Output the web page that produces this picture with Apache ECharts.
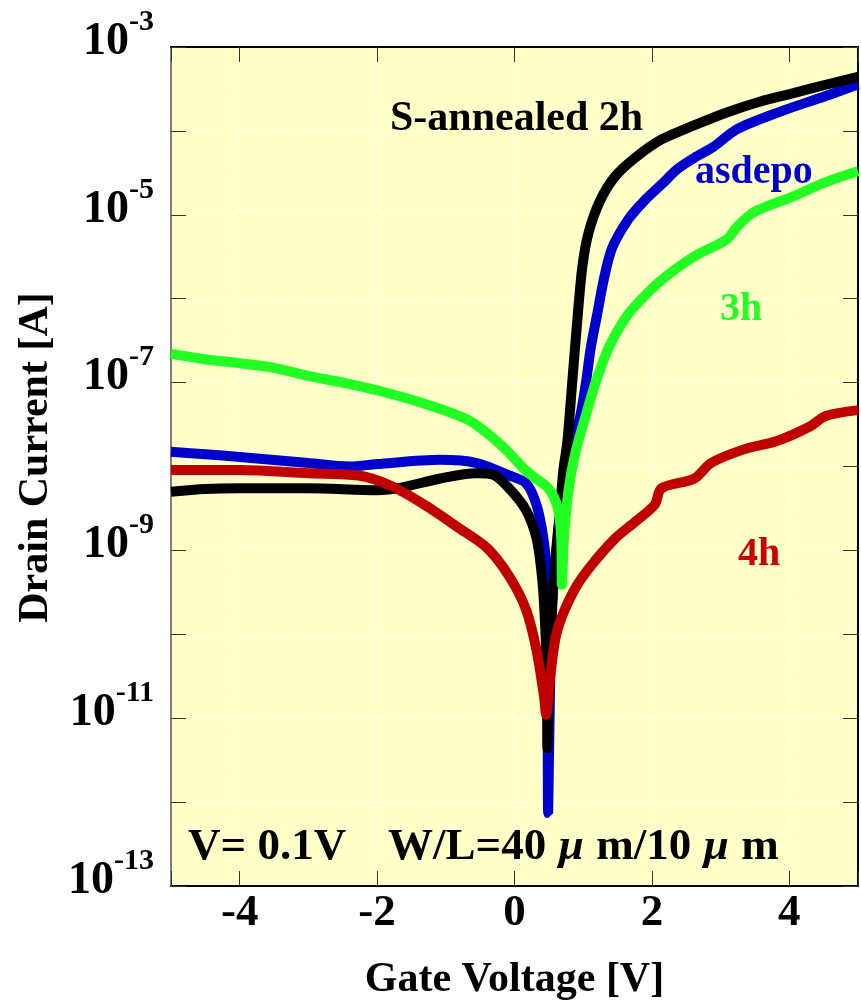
<!DOCTYPE html>
<html>
<head>
<meta charset="utf-8">
<script src="https://cdn.jsdelivr.net/npm/echarts@6/dist/echarts.min.js"></script>
<style>
  html, body { margin: 0; padding: 0; background: #ffffff; }
  #chart { width: 861px; height: 1006px; }
</style>
</head>
<body>
<div id="chart"></div>
<script>
// Transfer curves Id–Vg, drain bias 0.1 V, W/L = 40 µm / 10 µm

// asdepo
const vgAsdepo = [-5, -4.5, -4, -3, -2.4, -2, -1.08, -0.55, -0.07, 0.17, 0.32, 0.42, 0.47, 0.49,
  0.52, 0.56, 0.63, 0.70, 0.77, 0.85, 0.96, 1.04, 1.11, 1.20, 1.30, 1.42, 1.66, 1.90, 2.14, 2.37,
  2.62, 2.90, 3.24, 3.87, 4.53, 5.0];
const idAsdepo = [1.5e-8, 1.4e-8, 1.3e-8, 1.1e-8, 1.0e-8, 1.07e-8, 1.2e-8, 1.1e-8, 7.8e-9, 6.3e-9,
  3.5e-9, 1.4e-9, 4.8e-10, 7.4e-13, 3.2e-11, 3.2e-10, 1.6e-9, 4.5e-9, 9.5e-9, 1.8e-8, 4.1e-8,
  1.0e-7, 2.6e-7, 6.3e-7, 1.7e-6, 4.0e-6, 8.9e-6, 1.5e-5, 2.3e-5, 3.5e-5, 4.8e-5, 6.5e-5,
  1.05e-4, 1.7e-4, 2.6e-4, 3.6e-4];

// S-annealed 2h
const vgAnneal2h = [-5, -4.5, -4, -3, -2, -1.65, -1.08, -0.55, -0.30, -0.07, 0.17, 0.32, 0.39,
  0.43, 0.47, 0.48, 0.50, 0.55, 0.60, 0.65, 0.71, 0.77, 0.84, 0.92, 0.99, 1.08, 1.25, 1.47, 1.76,
  2.14, 2.62, 3.09, 3.58, 4.06, 4.53, 5.0];
const idAnneal2h = [5.0e-9, 5.4e-9, 5.5e-9, 5.5e-9, 5.2e-9, 5.6e-9, 7.2e-9, 8.3e-9, 7.9e-9, 5.4e-9,
  3.0e-9, 1.4e-9, 5.8e-10, 2.3e-10, 3.7e-11, 4.4e-12, 2.5e-11, 2.5e-10, 7.9e-10, 2.2e-9, 8.9e-9,
  2.0e-8, 1.0e-7, 6.3e-7, 2.5e-6, 6.2e-6, 1.5e-5, 2.9e-5, 4.8e-5, 7.9e-5, 1.17e-4, 1.66e-4,
  2.24e-4, 2.82e-4, 3.55e-4, 4.4e-4];

// 4h
const vg4h = [-5, -4, -3, -2.27, -1.8, -1.31, -0.83, -0.40, -0.07, 0.17, 0.32, 0.43, 0.46, 0.53,
  0.60, 0.70, 0.89, 1.13, 1.47, 1.76, 2.04, 2.14, 2.62, 2.86, 3.34, 3.81, 4.30, 4.53, 5.0];
const id4h = [9.1e-9, 9.1e-9, 8.3e-9, 7.8e-9, 5.9e-9, 3.5e-9, 1.9e-9, 1.07e-9, 4.8e-10, 1.95e-10,
  6.5e-11, 1.8e-11, 1.1e-11, 3.7e-11, 9.3e-11, 1.7e-10, 3.6e-10, 6.8e-10, 1.4e-9, 2.2e-9, 3.5e-9,
  5.5e-9, 7.2e-9, 1.1e-8, 1.6e-8, 2.0e-8, 3.0e-8, 4.0e-8, 4.7e-8];

// 3h
const vg3h = [-5, -4.5, -4, -3.5, -3, -2.5, -2, -1.31, -0.65, -0.16, 0.13, 0.27, 0.50, 0.63, 0.68,
  0.69, 0.72, 0.79, 0.89, 1.04, 1.18, 1.37, 1.64, 1.95, 2.19, 2.62, 3.09, 3.24, 3.48, 4.06, 4.53, 5.0];
const id3h = [2.2e-7, 1.9e-7, 1.7e-7, 1.5e-7, 1.2e-7, 1.0e-7, 8.1e-8, 5.6e-8, 3.5e-8, 1.7e-8, 9.5e-9,
  7.6e-9, 5.4e-9, 3.2e-9, 1.4e-9, 3.9e-10, 1.4e-9, 5.5e-9, 1.5e-8, 4.1e-8, 1.0e-7, 2.6e-7, 6.3e-7,
  1.2e-6, 1.8e-6, 3.2e-6, 5.1e-6, 7.2e-6, 1.07e-5, 1.66e-5, 2.45e-5, 3.3e-5];

const seriesNames = ['asdepo', 'S-annealed 2h', '4h', '3h'];
const seriesColors = ['#0000cc', '#000000', '#c00000', '#22ff22'];
const seriesX = [vgAsdepo, vgAnneal2h, vg4h, vg3h];
const seriesY = [idAsdepo, idAnneal2h, id4h, id3h];

const xTitle = 'Gate Voltage [V]';
const yTitle = 'Drain Current [A]';

const serif = '"Liberation Serif", "Times New Roman", serif';

function pairs(xs, ys) {
  return xs.map((x, i) => [x, ys[i]]);
}

const chart = echarts.init(document.getElementById('chart'), null, { renderer: 'canvas' });

const gridBox = { left: 171, top: 47, width: 695, height: 843 };

// decade labels on odd exponents only, written as 10 with a raised exponent
function yLabel(value) {
  const e = Math.round(Math.log10(value));
  if (e % 2 === 0) return '';
  return '{b|10}{s|' + e + '}';
}

function xLabel(value) {
  if (Math.abs(value) >= 5 || Math.abs(value) % 2 !== 0) return '';
  return String(value);
}

const option = {
  animation: false,
  backgroundColor: '#ffffff',
  grid: Object.assign({ show: true, backgroundColor: '#ffffc8', borderWidth: 0, containLabel: false }, gridBox),
  xAxis: [
    {
      type: 'value', position: 'bottom', min: -5, max: 5, splitNumber: 5,
      name: xTitle, nameLocation: 'middle', nameGap: 73,
      nameTextStyle: { fontFamily: serif, fontWeight: 'bold', fontSize: 42, color: '#000' },
      axisLine: { onZero: false, lineStyle: { color: '#000', width: 2 } },
      axisTick: { inside: true, length: 15, lineStyle: { color: '#333', width: 1 } },
      axisLabel: { formatter: xLabel, margin: 5, fontFamily: serif, fontWeight: 'bold', fontSize: 45, color: '#000' },
      splitLine: { show: true, showMinLine: false, showMaxLine: false, lineStyle: { color: '#ffffff', type: [5, 5], width: 1 } }
    },
    {
      type: 'value', position: 'top', min: -5, max: 5, splitNumber: 5,
      axisLine: { onZero: false, lineStyle: { color: '#000', width: 2 } },
      axisTick: { inside: true, length: 15, lineStyle: { color: '#333', width: 1 } },
      axisLabel: { show: false },
      splitLine: { show: false }
    }
  ],
  yAxis: [
    {
      type: 'log', logBase: 10, position: 'left', min: 1e-13, max: 1e-3, splitNumber: 10,
      name: yTitle, nameLocation: 'middle', nameGap: 111,
      nameTextStyle: { fontFamily: serif, fontWeight: 'bold', fontSize: 42, color: '#000', padding: [0, 0, 0, 18] },
      axisLine: { onZero: false, lineStyle: { color: '#555', width: 1.5 } },
      axisTick: { inside: true, length: 15, lineStyle: { color: '#333', width: 1 } },
      axisLabel: {
        formatter: yLabel, margin: 17, padding: [0, 0, 22, 0],
        rich: {
          b: { fontFamily: serif, fontWeight: 'bold', fontSize: 46, color: '#000', verticalAlign: 'bottom', lineHeight: 46 },
          s: { fontFamily: serif, fontWeight: 'bold', fontSize: 30, color: '#000', verticalAlign: 'top', padding: [0, 0, 28, 0] }
        }
      },
      splitLine: { show: true, showMinLine: false, showMaxLine: false, lineStyle: { color: '#ffffff', type: [5, 5], width: 1 } }
    },
    {
      type: 'log', logBase: 10, position: 'right', min: 1e-13, max: 1e-3, splitNumber: 10,
      axisLine: { onZero: false, lineStyle: { color: '#000', width: 2 } },
      axisTick: { inside: true, length: 15, lineStyle: { color: '#333', width: 1 } },
      axisLabel: { show: false },
      splitLine: { show: false }
    }
  ],
  series: seriesNames.map((name, i) => ({
    name: name,
    type: 'line',
    xAxisIndex: 0,
    yAxisIndex: 0,
    data: pairs(seriesX[i], seriesY[i]),
    showSymbol: false,
    smooth: 0.3,
    clip: true,
    z: 2 + i,
    lineStyle: { color: seriesColors[i], width: 10, cap: 'butt', join: 'bevel' }
  })),
  graphic: [
    {
      type: 'text', left: 390, top: 98, z: 100,
      style: { text: 'S-annealed 2h', fill: '#000', font: 'bold 42px ' + serif }
    },
    {
      type: 'text', left: 695, top: 153, z: 100,
      style: { text: 'asdepo', fill: '#0000cc', font: 'bold 40px ' + serif }
    },
    {
      type: 'text', left: 720, top: 290, z: 100,
      style: { text: '3h', fill: '#22ff22', font: 'bold 40px ' + serif }
    },
    {
      type: 'text', left: 738, top: 535, z: 100,
      style: { text: '4h', fill: '#cc0000', font: 'bold 40px ' + serif }
    },
    {
      type: 'text', left: 188, top: 825, z: 100,
      style: { text: 'V= 0.1V', fill: '#000', font: 'bold 45px ' + serif }
    },
    {
      type: 'text', left: 388, top: 825, z: 100,
      style: {
        text: '{t|W/L=40}{u|μ}{t|m/10}{u|μ}{t|m}',
        rich: {
          t: { fontFamily: serif, fontWeight: 'bold', fontSize: 45, fill: '#000', color: '#000' },
          u: { fontFamily: serif, fontWeight: 'bold', fontStyle: 'italic', fontSize: 45, fill: '#000', color: '#000', width: 50, align: 'center' }
        }
      }
    }
  ]
};

chart.setOption(option);
</script>
</body>
</html>
